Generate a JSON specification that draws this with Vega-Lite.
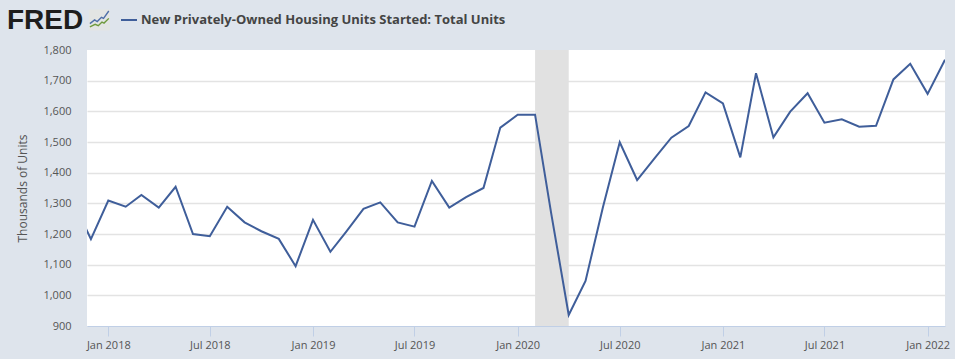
{"$schema":"https://vega.github.io/schema/vega-lite/v6.json","width":858,"height":276,"autosize":{"type":"none"},"padding":{"left":87,"top":50,"right":10,"bottom":33},"background":"#dee4ec","view":{"fill":"#ffffff","stroke":null},"title":{"text":"FRED","anchor":"start","frame":"group","dx":-80,"offset":-27,"font":"Liberation Sans","fontSize":28,"fontWeight":"bold","color":"#1d1d1d"},"config":{"font":"Open Sans"},"layer":[{"data":{"values":[{"start":"2020-02-01","end":"2020-04-01"}]},"mark":{"type":"rect","color":"#e1e1e1"},"encoding":{"x":{"field":"start","type":"temporal","scale":{"type":"utc","domain":["2017-11-24","2022-02-01"]}},"x2":{"field":"end"},"y":{"datum":900,"type":"quantitative","scale":{"domain":[900,1800],"nice":false}},"y2":{"datum":1800}}},{"data":{"values":[{"date":"2017-11-01","value":1299,"series":"New Privately-Owned Housing Units Started: Total Units"},{"date":"2017-12-01","value":1183,"series":"New Privately-Owned Housing Units Started: Total Units"},{"date":"2018-01-01","value":1309,"series":"New Privately-Owned Housing Units Started: Total Units"},{"date":"2018-02-01","value":1289,"series":"New Privately-Owned Housing Units Started: Total Units"},{"date":"2018-03-01","value":1327,"series":"New Privately-Owned Housing Units Started: Total Units"},{"date":"2018-04-01","value":1286,"series":"New Privately-Owned Housing Units Started: Total Units"},{"date":"2018-05-01","value":1354,"series":"New Privately-Owned Housing Units Started: Total Units"},{"date":"2018-06-01","value":1200,"series":"New Privately-Owned Housing Units Started: Total Units"},{"date":"2018-07-01","value":1193,"series":"New Privately-Owned Housing Units Started: Total Units"},{"date":"2018-08-01","value":1289,"series":"New Privately-Owned Housing Units Started: Total Units"},{"date":"2018-09-01","value":1238,"series":"New Privately-Owned Housing Units Started: Total Units"},{"date":"2018-10-01","value":1209,"series":"New Privately-Owned Housing Units Started: Total Units"},{"date":"2018-11-01","value":1184,"series":"New Privately-Owned Housing Units Started: Total Units"},{"date":"2018-12-01","value":1095,"series":"New Privately-Owned Housing Units Started: Total Units"},{"date":"2019-01-01","value":1246,"series":"New Privately-Owned Housing Units Started: Total Units"},{"date":"2019-02-01","value":1142,"series":"New Privately-Owned Housing Units Started: Total Units"},{"date":"2019-03-01","value":1207,"series":"New Privately-Owned Housing Units Started: Total Units"},{"date":"2019-04-01","value":1282,"series":"New Privately-Owned Housing Units Started: Total Units"},{"date":"2019-05-01","value":1303,"series":"New Privately-Owned Housing Units Started: Total Units"},{"date":"2019-06-01","value":1238,"series":"New Privately-Owned Housing Units Started: Total Units"},{"date":"2019-07-01","value":1224,"series":"New Privately-Owned Housing Units Started: Total Units"},{"date":"2019-08-01","value":1373,"series":"New Privately-Owned Housing Units Started: Total Units"},{"date":"2019-09-01","value":1286,"series":"New Privately-Owned Housing Units Started: Total Units"},{"date":"2019-10-01","value":1320,"series":"New Privately-Owned Housing Units Started: Total Units"},{"date":"2019-11-01","value":1350,"series":"New Privately-Owned Housing Units Started: Total Units"},{"date":"2019-12-01","value":1547,"series":"New Privately-Owned Housing Units Started: Total Units"},{"date":"2020-01-01","value":1589,"series":"New Privately-Owned Housing Units Started: Total Units"},{"date":"2020-02-01","value":1589,"series":"New Privately-Owned Housing Units Started: Total Units"},{"date":"2020-03-01","value":1265,"series":"New Privately-Owned Housing Units Started: Total Units"},{"date":"2020-04-01","value":936,"series":"New Privately-Owned Housing Units Started: Total Units"},{"date":"2020-05-01","value":1047,"series":"New Privately-Owned Housing Units Started: Total Units"},{"date":"2020-06-01","value":1287,"series":"New Privately-Owned Housing Units Started: Total Units"},{"date":"2020-07-01","value":1499,"series":"New Privately-Owned Housing Units Started: Total Units"},{"date":"2020-08-01","value":1376,"series":"New Privately-Owned Housing Units Started: Total Units"},{"date":"2020-09-01","value":1447,"series":"New Privately-Owned Housing Units Started: Total Units"},{"date":"2020-10-01","value":1514,"series":"New Privately-Owned Housing Units Started: Total Units"},{"date":"2020-11-01","value":1552,"series":"New Privately-Owned Housing Units Started: Total Units"},{"date":"2020-12-01","value":1662,"series":"New Privately-Owned Housing Units Started: Total Units"},{"date":"2021-01-01","value":1626,"series":"New Privately-Owned Housing Units Started: Total Units"},{"date":"2021-02-01","value":1450,"series":"New Privately-Owned Housing Units Started: Total Units"},{"date":"2021-03-01","value":1724,"series":"New Privately-Owned Housing Units Started: Total Units"},{"date":"2021-04-01","value":1515,"series":"New Privately-Owned Housing Units Started: Total Units"},{"date":"2021-05-01","value":1599,"series":"New Privately-Owned Housing Units Started: Total Units"},{"date":"2021-06-01","value":1659,"series":"New Privately-Owned Housing Units Started: Total Units"},{"date":"2021-07-01","value":1563,"series":"New Privately-Owned Housing Units Started: Total Units"},{"date":"2021-08-01","value":1574,"series":"New Privately-Owned Housing Units Started: Total Units"},{"date":"2021-09-01","value":1550,"series":"New Privately-Owned Housing Units Started: Total Units"},{"date":"2021-10-01","value":1553,"series":"New Privately-Owned Housing Units Started: Total Units"},{"date":"2021-11-01","value":1704,"series":"New Privately-Owned Housing Units Started: Total Units"},{"date":"2021-12-01","value":1755,"series":"New Privately-Owned Housing Units Started: Total Units"},{"date":"2022-01-01","value":1657,"series":"New Privately-Owned Housing Units Started: Total Units"},{"date":"2022-02-01","value":1768,"series":"New Privately-Owned Housing Units Started: Total Units"}]},"mark":{"type":"line","clip":true,"strokeWidth":2,"interpolate":"linear"},"encoding":{"x":{"field":"date","type":"temporal","axis":{"title":null,"labelExpr":"utcFormat(datum.value,'%b %Y')","tickCount":20,"values":[{"year":2018,"month":1,"date":1,"utc":true},{"year":2018,"month":7,"date":1,"utc":true},{"year":2019,"month":1,"date":1,"utc":true},{"year":2019,"month":7,"date":1,"utc":true},{"year":2020,"month":1,"date":1,"utc":true},{"year":2020,"month":7,"date":1,"utc":true},{"year":2021,"month":1,"date":1,"utc":true},{"year":2021,"month":7,"date":1,"utc":true},{"year":2022,"month":1,"date":1,"utc":true}],"grid":false,"domainColor":"#c0cfe6","domainWidth":1,"tickColor":"#c0cfe6","tickSize":10,"tickWidth":1,"labelFont":"Open Sans","labelFontSize":11,"labelColor":"#555555","labelPadding":3,"labelFlush":false,"labelOverlap":false}},"y":{"field":"value","type":"quantitative","axis":{"title":"Thousands of Units","titleFont":"Open Sans","titleFontSize":12,"titleFontWeight":"normal","titleColor":"#555555","titlePadding":13,"tickCount":20,"values":[900,1000,1100,1200,1300,1400,1500,1600,1700,1800],"format":",d","grid":true,"gridColor":{"condition":{"test":"datum.value>=1800||datum.value<=900","value":"transparent"},"value":"#e3e3e3"},"gridWidth":1.5,"domain":false,"ticks":false,"labelFont":"Open Sans","labelFontSize":11,"labelColor":"#555555","labelPadding":16,"labelOverlap":false}},"color":{"field":"series","type":"nominal","scale":{"range":["#3f5e9a"]},"legend":{"title":null,"orient":"none","legendX":33,"legendY":-39,"symbolType":"stroke","symbolSize":256,"symbolStrokeWidth":2,"labelFont":"Open Sans","labelFontSize":13,"labelFontWeight":"bold","labelColor":"#444444","labelLimit":500,"labelOffset":3,"padding":0}}}},{"data":{"values":[{"logo":"tile"}]},"mark":{"type":"point","shape":"square","filled":true,"color":"#e3e5e3","opacity":1,"size":441,"clip":false},"encoding":{"x":{"datum":{"year":2017,"month":12,"date":16,"utc":true},"type":"temporal"},"y":{"datum":1898,"type":"quantitative"}}},{"data":{"values":[{"logo":"blue"}]},"mark":{"type":"point","shape":"M-0.9,0.35L-0.45,0L-0.2,0.15L0.2,-0.25L0.4,-0.15L0.9,-0.85","filled":false,"fill":null,"color":"#4f6fa8","strokeWidth":1.4,"opacity":1,"size":441,"clip":false},"encoding":{"x":{"datum":{"year":2017,"month":12,"date":16,"utc":true},"type":"temporal"},"y":{"datum":1898,"type":"quantitative"}}},{"data":{"values":[{"logo":"green"}]},"mark":{"type":"point","shape":"M-0.9,0.65L-0.4,0.42L-0.1,0.55L0.25,0.2L0.45,0.3L0.9,-0.15","filled":false,"fill":null,"color":"#6f9a3c","strokeWidth":1.4,"opacity":1,"size":441,"clip":false},"encoding":{"x":{"datum":{"year":2017,"month":12,"date":16,"utc":true},"type":"temporal"},"y":{"datum":1898,"type":"quantitative"}}}]}
